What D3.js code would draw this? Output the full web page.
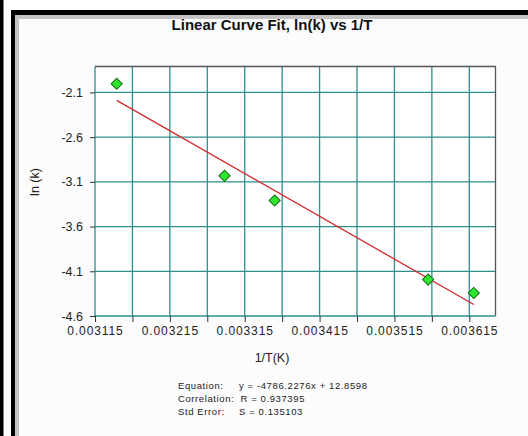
<!DOCTYPE html>
<html>
<head>
<meta charset="utf-8">
<script src="https://cdn.jsdelivr.net/npm/d3@7"></script>
<style>
	body { margin: 0; background: #ffffff; }
	svg { display: block; font-family: "Liberation Sans", Arial, sans-serif; }
</style>
</head>
<body>
<script>
// Data
const invT = [0.003144, 0.003288, 0.003355, 0.00356, 0.003621];
const lnK = [-2.003, -3.033, -3.309, -4.193, -4.342];
const xTickLabels = [0.003115, 0.003215, 0.003315, 0.003415, 0.003515, 0.003615];
const yTickLabels = [-2.1, -2.6, -3.1, -3.6, -4.1, -4.6];
const fitSlope = -4786.2276;
const fitIntercept = 12.8598;
const statLines = [
	["Equation:", "y = -4786.2276x + 12.8598"],
	["Correlation:", "R = 0.937395"],
	["Std Error:", "S = 0.135103"],
];

const w = 528;
const h = 436;
const plot = { left: 95, top: 66.5, right: 495.5, bottom: 316 };

const svg = d3.select("body").append("svg").attr("width", w).attr("height", h);

// Window frame
svg.append("rect").attr("x", 0).attr("y", 0).attr("width", w).attr("height", h).attr("fill", "#ffffff");
svg.append("rect").attr("x", 15).attr("y", 15).attr("width", w - 15).attr("height", h - 15).attr("fill", "#fcfcfc");
svg.append("rect").attr("x", 0).attr("y", 0).attr("width", 3.5).attr("height", h).attr("fill", "#000");
svg.append("rect").attr("x", 11).attr("y", 10).attr("width", 4).attr("height", h - 10).attr("fill", "#000");
svg.append("rect").attr("x", 11).attr("y", 10).attr("width", w - 11).attr("height", 5).attr("fill", "#000");
svg.append("rect").attr("x", 15).attr("y", 15).attr("width", 4).attr("height", h - 15).attr("fill", "#c4c4c4");
svg.append("rect").attr("x", 15).attr("y", 15).attr("width", w - 15).attr("height", 4).attr("fill", "#c4c4c4");

// Scales
const xScale = d3.scaleLinear().domain([0.003115, 0.00365]).range([plot.left, plot.right]);
const yScale = d3.scaleLinear().domain([-4.6, -1.81]).range([plot.bottom, plot.top]);

const xMinor = d3.range(0, 11).map((i) => 0.003115 + i * 0.00005);

// Plot background
svg.append("rect")
	.attr("x", plot.left).attr("y", plot.top)
	.attr("width", plot.right - plot.left).attr("height", plot.bottom - plot.top)
	.attr("fill", "#ffffff");

// Grid
const grid = svg.append("g").attr("stroke", "#2e8f8f").attr("stroke-width", 1.3);
grid.selectAll("line.v")
	.data(xMinor.slice(1))
	.enter()
	.append("line")
	.attr("x1", (d) => xScale(d)).attr("x2", (d) => xScale(d))
	.attr("y1", plot.top).attr("y2", plot.bottom);
grid.selectAll("line.h")
	.data(yTickLabels.slice(0, -1))
	.enter()
	.append("line")
	.attr("x1", plot.left).attr("x2", plot.right)
	.attr("y1", (d) => yScale(d)).attr("y2", (d) => yScale(d));

// Frame of plot area
svg.append("line").attr("x1", plot.left).attr("x2", plot.left).attr("y1", plot.top).attr("y2", plot.bottom)
	.attr("stroke", "#2e8f8f").attr("stroke-width", 1.3);
svg.append("path")
	.attr("d", `M${plot.left},${plot.top}H${plot.right}V${plot.bottom}`)
	.attr("fill", "none").attr("stroke", "#555").attr("stroke-width", 1.3);
svg.append("line").attr("x1", plot.left).attr("x2", plot.right).attr("y1", plot.bottom).attr("y2", plot.bottom)
	.attr("stroke", "#2e8f8f").attr("stroke-width", 1.3);

// X axis ticks and labels
const xAxis = d3.axisBottom(xScale).tickValues(xMinor).tickSize(6).tickFormat((d) =>
	xTickLabels.some((v) => Math.abs(v - d) < 1e-9) ? d.toFixed(6) : "");
const gx = svg.append("g").attr("transform", `translate(0, ${plot.bottom})`).call(xAxis);
gx.select(".domain").remove();
gx.selectAll(".tick line").attr("stroke", "#333");
gx.selectAll(".tick text")
	.attr("y", 10)
	.attr("font-size", 12)
	.attr("letter-spacing", 0.9)
	.attr("fill", "#222")
	.attr("font-family", "Liberation Sans, Arial, sans-serif");

// Y axis ticks and labels (plain hyphen minus, as in the picture)
const yAxis = d3.axisLeft(yScale).tickValues(yTickLabels).tickSize(5).tickFormat((d) => d.toFixed(1));
const gy = svg.append("g").attr("transform", `translate(${plot.left}, 0)`).call(yAxis);
gy.select(".domain").remove();
gy.selectAll(".tick line").attr("stroke", "#333");
gy.selectAll(".tick text")
	.attr("x", -12)
	.attr("font-size", 12.5)
	.attr("fill", "#222")
	.attr("font-family", "Liberation Sans, Arial, sans-serif");

// Titles
svg.append("text")
	.attr("x", 272).attr("y", 30)
	.attr("text-anchor", "middle")
	.attr("font-size", 15).attr("font-weight", "bold").attr("fill", "#111")
	.text("Linear Curve Fit, ln(k) vs 1/T");

svg.append("text")
	.attr("x", 272).attr("y", 362)
	.attr("text-anchor", "middle")
	.attr("font-size", 12.5).attr("fill", "#222")
	.text("1/T(K)");

svg.append("text")
	.attr("transform", "translate(39, 182) rotate(-90)")
	.attr("text-anchor", "middle")
	.attr("font-size", 12.5).attr("fill", "#222")
	.text("ln (k)");

// Fit line
const xExt = d3.extent(invT);
const fitPts = xExt.map((x) => [x, fitSlope * x + fitIntercept]);
svg.append("path")
	.attr("d", d3.line().x((d) => xScale(d[0])).y((d) => yScale(d[1]))(fitPts))
	.attr("stroke", "#d42a2a").attr("stroke-width", 1.3).attr("fill", "none");

// Data points
const diamond = d3.symbol().type(d3.symbolSquare).size(62);
svg.selectAll("path.pt")
	.data(invT.map((x, i) => [x, lnK[i]]))
	.enter()
	.append("path")
	.attr("class", "pt")
	.attr("d", diamond)
	.attr("transform", (d) => `translate(${xScale(d[0])}, ${yScale(d[1])}) rotate(45)`)
	.attr("fill", "#2ee62e").attr("stroke", "#1a6a1a").attr("stroke-width", 1);

// Regression stats
const stats = svg.append("g").attr("font-size", 9.5).attr("fill", "#222").attr("letter-spacing", 0.6);
statLines.forEach((row, i) => {
	stats.append("text").attr("x", 178).attr("y", 389 + i * 13).text(row[0]);
	stats.append("text").attr("x", i === 1 ? 240.5 : 239).attr("y", 389 + i * 13).text(row[1]);
});
</script>
</body>
</html>
